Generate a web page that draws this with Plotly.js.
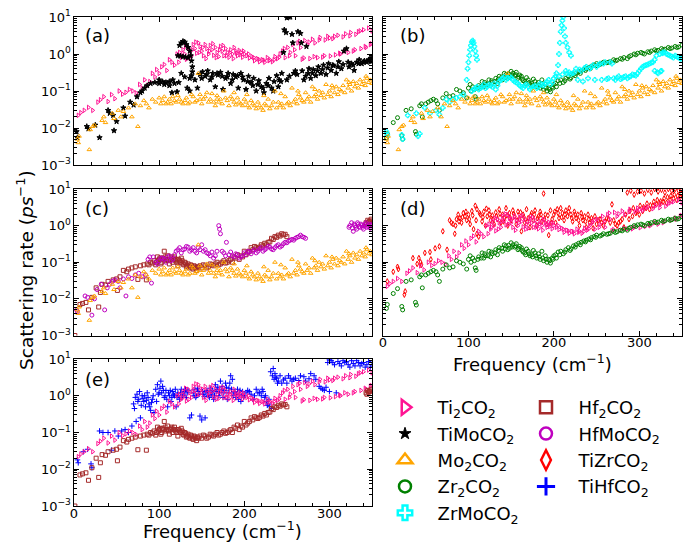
<!DOCTYPE html>
<html><head><meta charset="utf-8">
<script src="https://cdn.plot.ly/plotly-3.0.1.min.js"></script>
<style>html,body{margin:0;padding:0;background:#fff}#chart{width:683px;height:545px}</style>
</head><body><div id="chart"></div>
<script>
// ---- data: [frequency (cm^-1), scattering rate (ps^-1)] ----
const ti2co2 = [[5,0.022],[8,0.026],[12,0.03],[17,0.036],[22,0.03],[28,0.05],[31,0.058],[35,0.07],[40,0.052],[44,0.08],[48,0.062],[53,0.1],[57,0.082],[61,0.092],[65,0.11],[69,0.1],[73,0.088],[77,0.15],[80,0.12],[83,0.2],[86,0.14],[89,0.18],[92,0.3],[95,0.24],[97,0.38],[100,0.3],[103,0.45],[106,0.52],[109,0.36],[112,0.7],[115,0.6],[118,0.5],[121,1.0],[124,1.1],[126,0.8],[128,1.3],[130,1.0],[132,0.72],[134,1.5],[136,1.2],[138,0.9],[140,1.8],[142,1.4],[144,1.05],[146,2.0],[148,1.6],[150,1.2],[152,0.9],[154,1.8],[156,1.4],[158,1.0],[160,1.7],[162,1.3],[164,0.92],[166,1.5],[168,1.1],[170,0.85],[172,1.6],[174,1.2],[176,0.9],[178,1.4],[180,1.1],[182,0.82],[184,1.3],[186,1.0],[188,1.5],[190,1.2],[192,0.9],[194,1.25],[196,1.1],[198,0.82],[200,1.0],[203,0.9],[206,0.78],[209,0.85],[212,0.66],[215,0.75],[218,0.62],[221,0.7],[224,0.6],[227,0.8],[230,0.7],[233,0.62],[236,0.85],[239,0.75],[242,1.0],[245,1.2],[248,0.8],[251,1.5],[254,1.1],[257,1.8],[260,0.9],[263,2.0],[266,1.5],[268,0.72],[271,2.3],[274,1.8],[277,0.75],[280,2.5],[283,2.0],[286,0.8],[289,2.8],[292,0.82],[295,2.4],[298,3.0],[301,0.88],[304,2.6],[307,0.95],[310,3.2],[313,1.0],[316,2.9],[319,3.5],[322,1.1],[325,3.8],[328,1.2],[331,3.4],[334,4.0],[337,1.4],[340,4.5],[343,1.5],[346,5.0],[348,1.8],[350,4.2],
  [123,0.6],[127,0.9],[131,1.6],[135,0.8],[139,1.3],[143,2.1],[147,1.1],[151,1.5],[155,0.75],[159,1.2],[163,1.9],[167,0.8],[171,1.3],[175,1.7],[179,0.9],[183,1.1],[187,0.75],[191,1.05],[195,0.95],[199,1.2],[205,1.0],[211,0.8],[217,0.72],[223,0.68],[229,0.66],[235,0.7],[241,0.82],[247,1.4],[253,0.9],[259,1.3],[265,2.2],[270,0.78],[276,2.1],[282,0.85],[288,2.4],[294,0.9],[300,2.7],[306,3.0],[312,1.05],[318,1.2],[324,3.1],[330,1.3],[336,4.2],[342,1.6],[349,1.9]];
const timoco2 = [[3,0.008],[4,0.0055],[15,0.011],[17,0.0095],[25,0.012],[30,0.0055],[40,0.03],[42,0.025],[46,0.022],[47,0.0085],[50,0.015],[58,0.035],[60,0.021],[66,0.05],[70,0.042],[74,0.07],[78,0.09],[80,0.1],[83,0.12],[86,0.14],[90,0.16],[95,0.17],[100,0.16],[104,0.18],[108,0.17],[112,0.18],[115,0.09],[118,0.16],[121,0.095],[123,0.17],[122,0.9],[125,0.88],[128,0.85],[131,0.82],[134,0.8],[124,1.7],[126,2.0],[128,2.2],[130,2.1],[132,1.8],[134,1.5],[136,1.2],[137,0.9],[138,0.65],[139,0.45],[139,0.33],[138,0.26],[136,0.22],[126,0.3],[130,0.24],[133,0.12],[136,0.1],[142,0.2],[145,0.12],[148,0.28],[151,0.33],[154,0.25],[157,0.35],[160,0.2],[163,0.3],[166,0.13],[169,0.27],[172,0.32],[175,0.11],[178,0.22],[181,0.3],[184,0.16],[187,0.28],[190,0.24],[193,0.12],[196,0.3],[199,0.2],[202,0.11],[205,0.25],[208,0.17],[211,0.22],[214,0.1],[217,0.19],[220,0.13],[223,0.09],[226,0.16],[229,0.22],[232,0.12],[235,0.18],[238,0.26],[241,0.2],[244,0.3],[246,1.1],[247,4.5],[249,3.8],[250,9.5],[252,10],[254,10],[256,3.4],[257,2.0],[260,0.35],[263,4.0],[266,3.6],[267,2.0],[270,0.2],[273,1.6],[275,0.3],[278,0.22],[281,0.38],[284,0.26],[287,0.45],[290,0.3],[293,0.5],[296,0.28],[299,0.55],[302,0.36],[305,0.48],[308,0.3],[311,0.62],[314,0.4],[317,1.2],[320,1.4],[323,0.45],[326,0.55],[329,0.36],[332,0.6],[335,0.7],[338,0.55],[341,0.65],[344,0.6],[347,0.68],[350,0.8],
  [150,0.22],[156,0.28],[162,0.24],[168,0.3],[174,0.25],[180,0.24],[186,0.2],[192,0.26],[198,0.24],[204,0.18],[210,0.14],[216,0.15],[222,0.12],[228,0.14],[234,0.1],[240,0.13],[243,0.18],[250,0.2],[253,0.25],[258,0.3],[262,0.28],[268,0.35],[272,0.25],[276,0.4],[280,0.3],[286,0.35],[292,0.38],[298,0.42],[304,0.5],[310,0.45],[316,0.52],[322,0.6],[328,0.5],[334,0.55],[340,0.6],[346,0.7],[349,0.62],[100,0.2],[106,0.15],[112,0.14],[116,0.2]];
const mo2co2 = [[4,0.005],[5,0.004],[6,0.006],[18,0.0026],[19,0.009],[22,0.011],[24,0.012],[33,0.016],[35,0.02],[37,0.014],[45,0.025],[47,0.018],[52,0.03],[55,0.02],[58,0.028],[64,0.035],[68,0.02],[72,0.045],[75,0.011],[78,0.04],[82,0.055],[85,0.045],[88,0.035],[92,0.06],[96,0.05],[100,0.065],[104,0.055],[108,0.045],[110,0.05],[112,0.06],[116,0.07],[118,0.055],[120,0.05],[124,0.06],[126,0.05],[128,0.045],[132,0.065],[134,0.045],[136,0.05],[140,0.07],[142,0.05],[144,0.055],[146,0.3],[148,0.08],[150,0.045],[152,0.06],[156,0.09],[158,0.05],[160,0.06],[164,0.05],[166,0.04],[168,0.075],[172,0.06],[174,0.045],[176,0.1],[180,0.055],[182,0.04],[184,0.07],[188,0.05],[190,0.042],[192,0.065],[196,0.045],[198,0.04],[200,0.06],[204,0.04],[206,0.035],[208,0.055],[212,0.04],[214,0.033],[216,0.05],[220,0.035],[222,0.03],[224,0.045],[228,0.06],[230,0.033],[232,0.04],[236,0.1],[238,0.035],[240,0.05],[244,0.045],[246,0.035],[248,0.07],[252,0.05],[254,0.04],[256,0.12],[260,0.06],[262,0.045],[264,0.08],[268,0.055],[270,0.05],[272,0.09],[276,0.07],[278,0.05],[280,0.13],[284,0.08],[286,0.06],[288,0.1],[292,0.09],[294,0.065],[296,0.15],[300,0.1],[302,0.07],[304,0.12],[308,0.13],[310,0.08],[312,0.11],[316,0.14],[318,0.09],[320,0.2],[324,0.15],[326,0.1],[328,0.18],[332,0.16],[334,0.12],[336,0.2],[340,0.18],[342,0.14],[344,0.22],[348,0.2],[350,0.16],
  [102,0.045],[106,0.07],[114,0.045],[122,0.075],[130,0.055],[138,0.08],[154,0.07],[162,0.085],[170,0.05],[178,0.065],[186,0.06],[194,0.05],[202,0.05],[210,0.045],[218,0.04],[226,0.04],[234,0.05],[242,0.04],[250,0.045],[258,0.05],[266,0.065],[274,0.06],[282,0.07],[290,0.075],[298,0.08],[306,0.09],[314,0.1],[322,0.12],[330,0.13],[338,0.15],[346,0.17],[203,0.08],[223,0.075],[243,0.085],[263,0.1],[283,0.11],[303,0.14],[323,0.17],[343,0.25],[188,0.09],[168,0.06],[148,0.06]];
const zr2co2 = [[4,0.0055],[5,0.007],[12,0.014],[17,0.019],[22,0.0062],[23,0.005],[27,0.03],[33,0.033],[38,0.008],[39,0.0068],[43,0.04],[45,0.045],[46,0.02],[50,0.045],[53,0.05],[56,0.055],[59,0.06],[62,0.055],[64,0.045],[66,0.03],[70,0.065],[74,0.085],[78,0.07],[82,0.075],[86,0.11],[90,0.1],[94,0.09],[98,0.065],[100,0.12],[102,0.15],[105,0.13],[108,0.07],[109,0.06],[112,0.14],[116,0.18],[118,0.13],[120,0.15],[124,0.2],[126,0.14],[128,0.17],[132,0.22],[134,0.16],[136,0.25],[140,0.2],[142,0.3],[144,0.28],[146,0.22],[148,0.24],[150,0.34],[152,0.3],[154,0.26],[156,0.32],[158,0.22],[160,0.27],[162,0.25],[164,0.19],[166,0.18],[168,0.23],[170,0.2],[172,0.15],[174,0.16],[176,0.21],[178,0.18],[180,0.13],[182,0.17],[184,0.12],[186,0.2],[188,0.11],[190,0.15],[192,0.1],[194,0.12],[196,0.095],[198,0.13],[200,0.15],[202,0.16],[205,0.19],[208,0.2],[211,0.17],[214,0.22],[217,0.25],[220,0.23],[223,0.28],[226,0.3],[229,0.33],[232,0.35],[235,0.38],[238,0.4],[241,0.43],[244,0.47],[247,0.5],[250,0.55],[254,0.52],[258,0.6],[262,0.58],[266,0.62],[270,0.7],[274,0.68],[278,0.75],[282,0.8],[286,0.75],[290,0.9],[294,1.0],[298,1.05],[302,1.1],[306,1.0],[310,1.15],[314,1.2],[318,1.3],[322,1.25],[326,1.4],[330,1.35],[334,1.5],[338,1.45],[342,1.6],[346,1.55],[350,1.75],
  [103,0.1],[107,0.11],[111,0.12],[115,0.13],[119,0.17],[123,0.15],[127,0.19],[131,0.18],[135,0.21],[139,0.24],[143,0.23],[147,0.29],[151,0.26],[155,0.28],[159,0.24],[163,0.21],[167,0.16],[171,0.17],[175,0.14],[179,0.15],[183,0.14],[187,0.13],[191,0.12],[195,0.11],[199,0.12],[203,0.13],[207,0.16],[213,0.19],[219,0.21],[225,0.26],[231,0.3],[237,0.36],[243,0.41],[249,0.48],[256,0.55],[264,0.6],[272,0.65],[280,0.72],[288,0.85],[296,0.95],[304,1.05],[312,1.1],[320,1.2],[328,1.3],[336,1.4],[344,1.5]];
const zrmoco2 = [[4,0.008],[5,0.0065],[22,0.0065],[23,0.005],[29,0.022],[39,0.025],[41,0.006],[43,0.007],[49,0.035],[55,0.025],[62,0.03],[66,0.023],[70,0.035],[74,0.06],[78,0.05],[82,0.06],[86,0.065],[90,0.07],[94,0.08],[98,0.2],[99,0.4],[100,0.6],[101,0.9],[102,1.3],[103,1.7],[104,2.1],[105,2.3],[106,2.0],[107,1.6],[108,1.2],[109,0.9],[110,0.7],[104,0.1],[108,0.12],[112,0.11],[116,0.13],[120,0.12],[124,0.15],[128,0.13],[132,0.11],[136,0.18],[140,0.22],[144,0.2],[148,0.25],[152,0.2],[156,0.17],[160,0.14],[164,0.12],[168,0.15],[172,0.11],[176,0.13],[180,0.12],[184,0.16],[188,0.14],[192,0.18],[196,0.15],[200,0.22],[203,0.3],[205,0.5],[206,1.0],[207,2.0],[208,4.0],[209,6.0],[210,8.0],[211,10],[212,5.0],[213,3.0],[214,2.0],[216,1.5],[218,1.1],[220,0.9],[206,0.25],[210,0.28],[214,0.35],[218,0.32],[222,0.3],[226,0.4],[228,0.2],[232,0.35],[234,0.18],[238,0.45],[242,0.4],[246,0.5],[250,0.45],[254,0.55],[256,0.2],[260,0.6],[264,0.22],[268,0.55],[272,0.2],[276,0.25],[280,0.22],[284,0.25],[288,0.24],[292,0.28],[296,0.26],[300,0.35],[304,0.45],[308,0.5],[312,0.55],[316,0.6],[318,0.35],[320,0.9],[322,0.3],[324,1.0],[326,0.35],[328,1.1],[332,1.0],[336,0.9],[340,0.8],[344,0.85],[348,0.75],[350,0.8],
  [106,0.11],[110,0.13],[114,0.12],[118,0.15],[122,0.13],[126,0.14],[130,0.16],[134,0.14],[138,0.2],[142,0.24],[146,0.22],[150,0.23],[154,0.18],[158,0.16],[162,0.13],[166,0.14],[170,0.13],[174,0.12],[178,0.14],[182,0.13],[186,0.15],[190,0.16],[194,0.2],[198,0.17],[202,0.25],[215,0.3],[219,0.28],[224,0.32],[230,0.38],[236,0.42],[240,0.22],[244,0.45],[248,0.2],[252,0.5],[258,0.55],[262,0.21],[266,0.6],[270,0.22],[274,0.23],[278,0.21],[282,0.24],[286,0.22],[290,0.25],[294,0.27],[298,0.3],[302,0.4],[306,0.48],[310,0.52],[314,0.58],[318,0.7],[321,0.32],[325,0.34],[327,1.05],[330,1.1],[334,0.95],[338,0.85],[342,0.9],[346,0.8],[349,0.75]];
const hf2co2 = [[1,0.001],[7,0.007],[10,0.0075],[14,0.008],[17,0.005],[21,0.011],[26,0.02],[29,0.006],[31,0.015],[33,0.025],[37,0.024],[40,0.03],[46,0.033],[50,0.035],[51,0.017],[54,0.04],[58,0.06],[62,0.055],[64,0.065],[68,0.07],[72,0.075],[75,0.034],[78,0.08],[82,0.085],[85,0.033],[86,0.09],[90,0.1],[94,0.11],[96,0.085],[98,0.14],[100,0.12],[102,0.09],[104,0.13],[106,0.2],[108,0.11],[110,0.15],[112,0.09],[114,0.13],[116,0.1],[118,0.14],[120,0.12],[122,0.08],[124,0.11],[126,0.13],[128,0.09],[130,0.1],[132,0.075],[134,0.09],[136,0.07],[138,0.08],[140,0.065],[142,0.075],[144,0.06],[146,0.07],[148,0.08],[152,0.085],[156,0.07],[160,0.09],[164,0.08],[168,0.1],[172,0.09],[176,0.11],[180,0.1],[184,0.12],[188,0.14],[192,0.16],[196,0.15],[200,0.2],[204,0.18],[208,0.25],[212,0.27],[216,0.24],[220,0.3],[224,0.33],[228,0.35],[232,0.45],[236,0.5],[240,0.55],[244,0.6],[248,0.58],[250,0.5],[343,1.2],[345,1.4],[347,1.3],[349,1.5],
  [88,0.085],[92,0.095],[97,0.1],[99,0.11],[101,0.13],[103,0.1],[105,0.12],[107,0.14],[109,0.12],[111,0.11],[113,0.12],[115,0.14],[117,0.12],[119,0.11],[121,0.1],[123,0.12],[125,0.1],[127,0.11],[129,0.085],[131,0.095],[133,0.08],[135,0.075],[137,0.085],[139,0.07],[141,0.08],[143,0.07],[145,0.075],[150,0.07],[154,0.08],[158,0.075],[162,0.085],[166,0.09],[170,0.085],[174,0.1],[178,0.095],[182,0.11],[186,0.1],[190,0.13],[194,0.12],[198,0.14],[202,0.16],[206,0.2],[210,0.22],[214,0.25],[218,0.26],[222,0.28],[226,0.3],[230,0.36],[234,0.42],[238,0.48],[242,0.52],[246,0.56],[344,1.1],[346,1.25],[348,1.35]];
const hfmoco2 = [[3,0.005],[4,0.0045],[13,0.012],[16,0.011],[21,0.0036],[24,0.01],[27,0.018],[32,0.025],[36,0.005],[39,0.02],[42,0.025],[45,0.03],[48,0.033],[52,0.03],[54,0.02],[58,0.035],[61,0.012],[64,0.04],[68,0.036],[72,0.045],[76,0.05],[80,0.04],[84,0.045],[87,0.12],[89,0.14],[91,0.027],[93,0.14],[96,0.1],[100,0.11],[104,0.13],[108,0.1],[112,0.15],[116,0.12],[120,0.2],[124,0.25],[128,0.22],[132,0.27],[136,0.2],[140,0.25],[144,0.18],[148,0.22],[150,0.3],[152,0.2],[156,0.18],[160,0.15],[164,0.13],[168,0.2],[170,1.0],[171,0.8],[172,0.6],[176,0.18],[179,0.35],[182,0.16],[186,0.15],[190,0.17],[194,0.13],[198,0.15],[200,0.18],[204,0.2],[208,0.17],[212,0.22],[216,0.2],[220,0.25],[224,0.22],[228,0.27],[232,0.23],[236,0.25],[240,0.3],[244,0.28],[248,0.35],[252,0.38],[256,0.42],[260,0.45],[264,0.5],[266,0.55],[268,0.5],[272,0.45],[323,0.9],[326,1.2],[328,0.7],[330,1.0],[332,0.8],[334,1.1],[336,0.9],[338,1.0],[340,0.8],[342,1.1],[344,0.9],[346,1.0],[348,0.85],[350,1.05],
  [98,0.09],[102,0.13],[106,0.12],[110,0.14],[114,0.11],[118,0.16],[122,0.22],[126,0.18],[130,0.23],[134,0.26],[138,0.22],[142,0.2],[146,0.25],[154,0.22],[158,0.17],[162,0.19],[166,0.15],[174,0.2],[178,0.15],[184,0.19],[188,0.14],[192,0.16],[196,0.14],[202,0.16],[206,0.19],[210,0.2],[214,0.18],[218,0.23],[222,0.2],[226,0.24],[230,0.26],[234,0.22],[238,0.28],[242,0.26],[246,0.32],[250,0.34],[254,0.4],[258,0.4],[262,0.48],[270,0.48],[324,1.0],[327,0.85],[329,1.1],[331,0.9],[333,1.2],[335,0.95],[337,1.1],[339,0.9],[341,1.0],[343,1.2],[345,0.95],[347,1.1],[349,0.9]];
const tizrco2 = [[5,0.03],[12,0.055],[17,0.075],[18,0.065],[25,0.013],[26,0.016],[35,0.13],[40,0.09],[42,0.13],[44,0.1],[45,0.085],[49,0.18],[55,0.19],[56,0.12],[61,0.24],[66,0.27],[70,0.7],[75,0.22],[78,1.4],[80,1.2],[82,1.1],[84,0.6],[86,1.5],[88,2.0],[90,1.6],[92,1.2],[94,2.2],[96,1.8],[98,1.4],[100,2.0],[102,1.1],[104,2.5],[106,0.8],[108,3.5],[110,2.8],[110,0.6],[112,0.5],[114,2.0],[116,1.3],[118,2.4],[120,1.0],[122,1.8],[124,2.6],[126,1.4],[128,1.9],[130,1.1],[132,2.3],[134,1.5],[136,2.8],[138,1.2],[140,2.0],[142,1.6],[144,3.0],[146,1.0],[148,2.2],[150,1.4],[152,2.6],[154,1.8],[156,1.1],[158,2.4],[160,1.5],[162,0.7],[164,2.0],[166,1.2],[168,2.8],[170,1.6],[172,0.9],[174,2.2],[176,1.4],[178,2.6],[180,1.0],[182,1.8],[184,2.4],[186,1.3],[188,7.5],[190,2.0],[192,1.1],[194,0.55],[196,2.6],[198,1.5],[200,2.0],[202,1.2],[204,2.8],[206,1.6],[208,3.0],[210,2.2],[212,1.4],[214,2.6],[216,1.8],[218,3.0],[220,2.0],[222,1.3],[224,2.4],[226,1.6],[228,2.0],[230,1.0],[232,2.2],[234,1.4],[236,1.8],[238,0.9],[240,2.0],[242,1.2],[244,1.6],[246,0.85],[248,1.8],[250,1.1],[254,1.5],[258,1.0],[262,1.6],[266,1.2],[268,3.8],[270,1.4],[274,1.0],[278,1.3],[282,0.9],[286,8.0],[288,1.5],[290,9.0],[292,1.8],[294,7.0],[296,2.2],[298,8.5],[300,2.0],[302,9.0],[304,2.5],[306,7.5],[308,3.0],[310,9.5],[312,2.8],[314,8.0],[316,3.5],[318,10],[320,3.8],[322,8.5],[324,4.0],[326,9.5],[328,4.5],[330,8.0],[332,4.2],[334,10],[336,5.0],[338,9.0],[340,5.5],[342,10],[344,5.0],[346,9.0],[348,6.0],[350,9.5],
  [85,1.0],[89,1.3],[93,1.7],[97,2.4],[101,1.5],[105,1.9],[109,1.4],[113,2.2],[117,1.7],[121,2.9],[125,2.0],[129,1.5],[133,1.8],[137,2.1],[141,1.3],[145,1.9],[149,1.6],[153,2.1],[157,1.4],[161,2.3],[165,1.7],[169,1.3],[173,1.9],[177,2.0],[181,1.6],[185,2.0],[189,1.5],[193,1.9],[197,1.2],[201,2.4],[205,2.2],[209,1.7],[213,2.0],[217,2.4],[221,1.6],[225,2.0],[229,1.4],[233,1.7],[237,1.3],[241,1.5],[245,1.3],[252,1.4],[256,1.2],[260,1.3],[264,1.5],[272,1.1],[276,1.2],[280,1.5],[284,2.0],[289,2.5],[293,3.0],[297,2.5],[301,3.5],[305,3.2],[309,4.0],[313,3.6],[317,4.5],[321,5.0],[325,4.6],[329,5.5],[333,6.0],[337,6.5],[341,7.0],[345,6.5],[349,7.5]];
const tihfco2 = [[4,0.018],[5,0.015],[11,0.03],[16,0.035],[20,0.014],[21,0.011],[30,0.11],[34,0.1],[40,0.1],[44,0.033],[48,0.11],[52,0.08],[56,0.11],[60,0.12],[64,0.1],[68,0.15],[70,0.6],[72,0.9],[73,0.2],[74,1.1],[76,0.8],[78,0.25],[80,1.0],[82,0.7],[84,0.5],[86,1.2],[88,0.6],[90,0.4],[92,0.8],[94,0.35],[96,1.5],[98,2.0],[100,1.2],[102,2.5],[104,1.8],[106,0.9],[108,1.4],[110,0.5],[112,1.0],[114,0.7],[116,1.3],[118,1.0],[120,0.5],[122,1.2],[124,0.8],[126,1.5],[128,1.1],[130,1.3],[132,0.9],[134,1.4],[136,0.25],[138,0.3],[140,1.2],[142,1.5],[144,1.0],[146,1.3],[148,0.28],[150,0.22],[152,1.1],[154,0.25],[156,1.4],[158,1.0],[160,1.6],[162,1.2],[164,0.8],[166,2.0],[168,1.5],[170,1.0],[172,2.5],[174,1.8],[176,1.2],[178,2.2],[180,0.8],[182,1.6],[184,3.5],[186,2.8],[188,1.2],[190,0.9],[192,1.5],[194,1.1],[196,0.7],[198,1.3],[200,1.0],[204,1.4],[208,1.1],[210,0.8],[214,1.5],[218,1.2],[220,1.0],[222,1.3],[224,0.9],[226,0.7],[228,0.6],[230,0.5],[232,0.45],[234,5.5],[236,4.0],[238,3.0],[240,2.5],[242,3.5],[244,2.2],[248,3.0],[252,3.5],[256,2.5],[260,3.0],[266,3.5],[272,2.5],[278,4.0],[284,2.8],[290,1.6],[294,1.4],[298,8.0],[300,1.3],[302,9.0],[306,7.0],[308,1.2],[310,8.5],[314,6.5],[318,8.0],[322,7.0],[326,9.0],[330,6.5],[334,8.0],[338,7.5],[342,6.0],[346,8.5],[350,7.0],
  [71,0.45],[75,0.7],[77,1.3],[79,0.55],[81,0.85],[83,1.0],[85,0.75],[87,0.9],[89,0.5],[91,0.65],[93,1.0],[97,0.7],[99,1.1],[101,1.6],[103,1.2],[105,1.4],[107,1.0],[109,0.8],[111,1.2],[113,1.4],[115,0.9],[117,1.1],[119,1.5],[121,0.9],[123,1.0],[125,1.2],[127,0.9],[129,1.0],[131,1.5],[133,1.2],[141,1.0],[143,0.9],[145,1.6],[147,1.1],[151,1.3],[153,0.95],[155,1.2],[157,1.3],[159,0.9],[161,1.1],[163,1.4],[165,1.0],[167,1.3],[169,1.7],[171,1.2],[173,1.5],[175,0.9],[177,1.4],[179,1.7],[181,1.2],[183,2.2],[185,1.5],[187,1.0],[189,1.3],[191,1.1],[193,0.8],[195,1.4],[197,1.0],[199,0.9],[202,1.2],[206,1.3],[212,1.0],[216,1.2],[221,1.5],[225,1.0],[227,0.55],[229,0.8],[231,4.5],[233,3.5],[235,2.8],[237,3.2],[239,2.2],[246,2.7],[250,2.2],[254,3.0],[258,2.8],[264,2.6],[270,3.3],[276,2.9],[282,3.5],[288,1.8],[292,1.5],[296,1.7],[300,9.5],[304,8.0],[312,7.5],[316,9.0],[320,8.5],[324,6.0],[328,7.5],[332,9.0],[336,6.5],[340,8.0],[344,7.0],[348,6.0]];

const yTickAlias = {'1':'10<sup>0</sup>', '10':'10<sup>1</sup>'};
const xTickVals = [0, 100, 200, 300];
const panelLabels = ['(a)','(b)','(c)','(d)','(e)'];

// ---- styles ----
const S = {
  ti2co2:  {name:'Ti<sub>2</sub>CO<sub>2</sub>', data:ti2co2, color:'#ff1493', symbol:'triangle-right-open', legend:'legend', rank:1, lsize:13, llw:2.5},
  timoco2: {name:'TiMoCO<sub>2</sub>', data:timoco2, color:'#000000', symbol:'star', legend:'legend', rank:2, lsize:9, llw:1},
  mo2co2:  {name:'Mo<sub>2</sub>CO<sub>2</sub>', data:mo2co2, color:'#ffa500', symbol:'triangle-up-open', legend:'legend', rank:3, lsize:13, llw:2.5},
  zr2co2:  {name:'Zr<sub>2</sub>CO<sub>2</sub>', data:zr2co2, color:'#008000', symbol:'circle-open', legend:'legend', rank:4, lsize:12, llw:2.5},
  zrmoco2: {name:'ZrMoCO<sub>2</sub>', data:zrmoco2, color:'#00ffff', symbol:'cross-open', legend:'legend', rank:5, lsize:12, llw:2.5},
  hf2co2:  {name:'Hf<sub>2</sub>CO<sub>2</sub>', data:hf2co2, color:'#a52a2a', symbol:'square-open', legend:'legend2', rank:1, lsize:12, llw:2.5},
  hfmoco2: {name:'HfMoCO<sub>2</sub>', data:hfmoco2, color:'#bf00bf', symbol:'circle-open', legend:'legend2', rank:2, lsize:12, llw:2.5},
  tizrco2: {name:'TiZrCO<sub>2</sub>', data:tizrco2, color:'#ff0000', symbol:'diamond-tall-open', legend:'legend2', rank:3, lsize:14, llw:2.5},
  tihfco2: {name:'TiHfCO<sub>2</sub>', data:tihfco2, color:'#0000ff', symbol:'cross-thin-open', legend:'legend2', rank:4, lsize:13, llw:3}
};
const panels = [
  ['ti2co2','timoco2','mo2co2'],
  ['zr2co2','zrmoco2','mo2co2'],
  ['hf2co2','hfmoco2','mo2co2'],
  ['tizrco2','ti2co2','zr2co2'],
  ['tihfco2','ti2co2','hf2co2']
];

const traces = [];
panels.forEach((keys, i) => {
  keys.forEach(k => {
    const s = S[k];
    traces.push({
      type:'scatter', mode:'markers', name:s.name,
      x: s.data.map(p => p[0]), y: s.data.map(p => p[1]),
      xaxis: 'x' + (i ? i+1 : ''), yaxis: 'y' + (i ? i+1 : ''),
      marker:{symbol:s.symbol, color:s.color, size:4, line:{width:1, color:s.color}},
      showlegend:false
    });
  });
});
// legend entries: same series on a hidden axis pair whose range shows none of them
Object.keys(S).forEach(k => {
  const s = S[k];
  traces.push({
    type:'scatter', mode:'markers', name:'\u2002\u2009' + s.name,
    x: s.data.map(p => p[0]), y: s.data.map(p => p[1]), xaxis:'x6', yaxis:'y6',
    marker:{symbol:s.symbol, color:s.color, size:s.lsize, line:{width:s.llw, color:s.color}},
    showlegend:true, legend:s.legend, legendrank:s.rank
  });
});

const W = 683, H = 545;
const xd = [[74/W, 372/W],[383/W, 682/W]];
const yd = [[1-165/H, 1-17/H],[1-335.5/H, 1-189/H],[1-506/H, 1-359/H]];
const pos = [[0,0],[1,0],[0,1],[1,1],[0,2]];
const layout = {
  width:W, height:H, margin:{l:0,r:0,t:0,b:0},
  paper_bgcolor:'#fff', plot_bgcolor:'#fff',
  font:{family:'DejaVu Sans', color:'#000', size:13},
  hovermode:false,
  legend:{x:385/W, y:1-389/H, xanchor:'left', yanchor:'top', bgcolor:'rgba(0,0,0,0)', font:{size:18}, itemsizing:'trace', tracegroupgap:0},
  legend2:{x:526/W, y:1-389/H, xanchor:'left', yanchor:'top', bgcolor:'rgba(0,0,0,0)', font:{size:18}, itemsizing:'trace', tracegroupgap:0},
  xaxis6:{domain:[0.99,1], anchor:'y6', range:[2000,2001], visible:false, showgrid:false, zeroline:false},
  yaxis6:{domain:[0,0.01], anchor:'x6', type:'log', range:[5,6], visible:false, showgrid:false, zeroline:false},
  annotations:[]
};
pos.forEach((p, i) => {
  const sfx = i ? i+1 : '';
  const showX = (i === 3 || i === 4);
  const showY = (p[0] === 0);
  layout['xaxis'+sfx] = {
    domain: xd[p[0]], anchor:'y'+sfx, range:[0,350], tickmode:'array', tickvals:xTickVals,
    ticks:'inside', ticklen:5, tickwidth:1, tickcolor:'#000', mirror:'ticks', showline:true, linecolor:'#000', linewidth:1,
    showgrid:false, zeroline:false, showticklabels:showX, tickfont:{size:13}, ticklabelstandoff:-5,
    minor:{tickmode:'linear', tick0:0, dtick:20, ticks:'inside', ticklen:3, tickcolor:'#000', showgrid:false}
  };
  layout['yaxis'+sfx] = {
    domain: yd[p[1]], anchor:'x'+sfx, type:'log', range:[-3,1], tickmode:'linear', tick0:0, dtick:1,
    exponentformat:'power', showexponent:'all', labelalias:yTickAlias,
    ticks:'inside', ticklen:5, tickwidth:1, tickcolor:'#000', mirror:'ticks', showline:true, linecolor:'#000', linewidth:1,
    showgrid:false, zeroline:false, showticklabels:showY, tickfont:{size:10.4},
    minor:{dtick:'D1', ticks:'inside', ticklen:3, tickcolor:'#000', showgrid:false}
  };
  const lx = (p[0] === 0 ? 83 : 398) / W;
  const ly = 1 - [35, 209, 379][p[1]] / H;
  layout.annotations.push({xref:'paper', yref:'paper', x:lx, y:ly, xanchor:'left', yanchor:'middle', text:panelLabels[i], showarrow:false, font:{size:18}});
});
layout.annotations.push({xref:'paper', yref:'paper', x:25/W, y:1-270/H, xanchor:'center', yanchor:'middle', textangle:-90, text:'Scattering rate (<i>ps</i><sup>\u22121</sup>)', showarrow:false, font:{size:18.5}});
layout.annotations.push({xref:'paper', yref:'paper', x:532/W, y:1-363/H, xanchor:'center', yanchor:'middle', text:'Frequency (cm<sup>\u22121</sup>)', showarrow:false, font:{size:18}});
layout.annotations.push({xref:'paper', yref:'paper', x:222/W, y:1-530/H, xanchor:'center', yanchor:'middle', text:'Frequency (cm<sup>\u22121</sup>)', showarrow:false, font:{size:18}});

Plotly.newPlot('chart', traces, layout, {staticPlot:true, displayModeBar:false});
</script></body></html>
